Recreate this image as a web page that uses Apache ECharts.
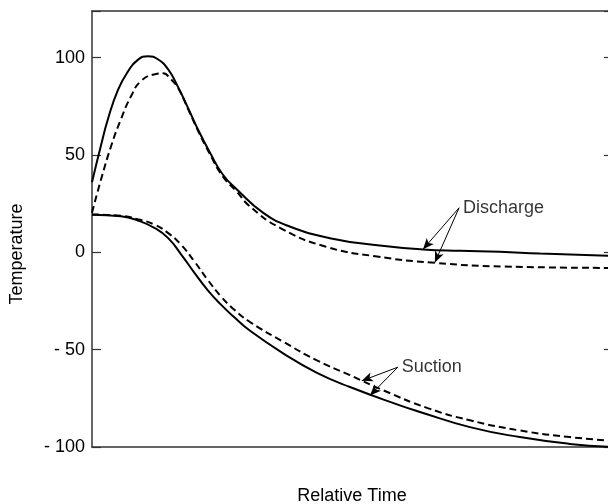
<!DOCTYPE html>
<html>
<head>
<meta charset="utf-8">
<script src="https://cdn.jsdelivr.net/npm/echarts@6/dist/echarts.min.js"></script>
<style>
  html, body { margin: 0; padding: 0; background: #fff; }
  #chart { width: 608px; height: 504px; }
</style>
</head>
<body>
<div id="chart"></div>
<script>
// readings, relative time 0..101 (right edge of plot)
const dischargeSolidTime = [0, 1.75, 3.1, 5.05, 7, 8.9, 10.9, 12.8, 14.8, 16.7, 18.6, 20.6, 22.9, 25.4, 28.2, 33.2, 38.4, 46.2, 55.9, 64.3, 71.5, 79.2, 87, 101]
const dischargeSolid = [36, 55, 68.5, 83.5, 93, 98.9, 100.8, 99.2, 94, 85, 74.5, 63, 51.3, 40, 32.2, 20.4, 13.3, 7.3, 3.5, 1.5, 0.8, 0.3, -0.6, -1.8]

const dischargeDashTime = [0, 1.75, 3.7, 5.6, 7.6, 9.5, 12.2, 13.8, 15.3, 16.7, 18.6, 20.6, 22.9, 25.4, 28.2, 30.5, 36.5, 45.3, 55, 66.6, 80, 101]
const dischargeDash = [20.4, 37.4, 54.5, 68.3, 80.3, 88, 91.5, 92, 89, 84.5, 74, 62.5, 50.5, 39, 31, 24, 12.6, 3, -2, -5.4, -7.3, -8]

const suctionSolidTime = [0, 5.6, 8.9, 12.2, 14.8, 17.3, 19.9, 22.5, 25.1, 27.7, 30.7, 37.2, 43.6, 50.1, 59.8, 63.7, 73.4, 83.1, 92.8, 101]
const suctionSolid = [19.3, 18.5, 16.4, 12.5, 7.3, -1, -10.5, -19.5, -27, -33.5, -40.3, -52, -61.8, -69.2, -78.6, -82, -89.8, -94.9, -98.4, -100]

const suctionDashTime = [0, 5.6, 8.9, 12.2, 14.8, 17.3, 19.9, 22.5, 25.1, 27.7, 30.7, 37.2, 43.6, 50.1, 56.6, 65.2, 73.4, 83.1, 92.8, 101]
const suctionDash = [19.5, 18.8, 17, 14.2, 9.9, 3.9, -4.7, -14.2, -22.8, -29.6, -35.8, -46, -55.4, -63.1, -70.9, -80, -86.3, -91.5, -94.9, -96.8]

const yTicks = [-100, -50, 0, 50, 100]

// annotation: label anchor and arrow tips, in data coords
const annoLabels = ['Discharge', 'Suction']
const annoAnchor = [[71.3, 22.9], [59.4, -59]]
const annoTips = [[[64.3, 1.6], [66.6, -5.2]], [[52.4, -66], [54, -73.5]]]

const font = "'Liberation Sans', Arial, sans-serif"
const zip = (t, v) => t.map((x, i) => [x, v[i]])

const chart = echarts.init(document.getElementById('chart'))

const arrows = []
annoTips.forEach((tips, i) => {
  tips.forEach(tip => {
    arrows.push([{ coord: annoAnchor[i] }, { coord: tip }])
  })
})

const lineBase = { type: 'line', smooth: 0.5, showSymbol: false, silent: true, animation: false }
const frameLine = { onZero: false, lineStyle: { color: '#333', width: 1.5 } }

chart.setOption({
  animation: false,
  grid: { left: 92, right: -4, top: 11, bottom: 57, outerBoundsMode: 'none', containLabel: false },
  xAxis: [
    {
      type: 'value', min: 0, max: 101,
      axisLine: frameLine,
      axisTick: { show: false }, axisLabel: { show: false }, splitLine: { show: false },
      name: 'Relative Time', nameLocation: 'middle', nameGap: 40,
      nameTextStyle: { fontFamily: font, fontSize: 18, color: '#000' },
    },
    {
      type: 'value', position: 'top', min: 0, max: 101,
      axisLine: frameLine,
      axisTick: { show: false }, axisLabel: { show: false }, splitLine: { show: false },
    },
  ],
  yAxis: [
    {
      type: 'value', min: -100, max: 124, interval: 50,
      axisLine: frameLine,
      axisTick: { inside: true, length: 9, lineStyle: { color: '#333', width: 1.2 } },
      axisLabel: {
        margin: 7, fontFamily: font, fontSize: 18, color: '#000',
        formatter: v => yTicks.includes(v) ? (v < 0 ? '- ' + Math.abs(v) : String(v)) : '',
      },
      splitLine: { show: false },
      name: 'Temperature', nameLocation: 'middle', nameGap: 66,
      nameTextStyle: { fontFamily: font, fontSize: 18, color: '#000', padding: [0, 50, 0, 0] },
    },
    {
      type: 'value', position: 'right', min: -100, max: 124, interval: 50,
      axisLine: frameLine,
      axisTick: { inside: true, length: 8, lineStyle: { color: '#333', width: 1.2 } },
      axisLabel: { show: false }, splitLine: { show: false },
    },
  ],
  series: [
    {
      ...lineBase, name: 'Discharge',
      lineStyle: { color: '#000', width: 2 },
      data: zip(dischargeSolidTime, dischargeSolid),
      markLine: {
        silent: true, symbol: ['none', 'arrow'], symbolSize: [7, 11],
        lineStyle: { color: '#000', width: 1, type: 'solid' },
        label: { show: false },
        data: arrows,
      },
    },
    {
      ...lineBase, name: 'Discharge (dashed)',
      lineStyle: { color: '#000', width: 2, type: [7, 4] },
      data: zip(dischargeDashTime, dischargeDash),
    },
    {
      ...lineBase, name: 'Suction',
      lineStyle: { color: '#000', width: 2 },
      data: zip(suctionSolidTime, suctionSolid),
    },
    {
      ...lineBase, name: 'Suction (dashed)',
      lineStyle: { color: '#000', width: 2, type: [7, 4] },
      data: zip(suctionDashTime, suctionDash),
    },
    {
      type: 'scatter', silent: true, symbolSize: 0,
      data: annoAnchor.map((c, i) => ({ value: c, name: annoLabels[i] })),
      label: {
        show: true, position: 'right', distance: 4, formatter: p => p.name,
        fontFamily: font, fontSize: 18, color: '#000',
      },
    },
  ],
})
</script>
</body>
</html>
